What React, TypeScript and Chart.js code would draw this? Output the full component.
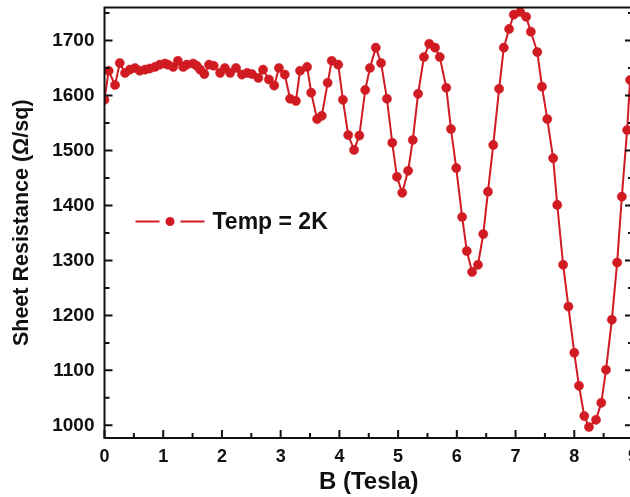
import { useEffect, useRef } from "react";
import { Chart, registerables } from "chart.js";

Chart.register(...registerables);

// Magnetic field B (Tesla)
const fieldB = [
  0.0, 0.07, 0.18, 0.26, 0.35, 0.43, 0.52, 0.6, 0.69, 0.77, 0.86, 0.94, 1.03, 1.08, 1.17, 1.25,
  1.34, 1.4, 1.51, 1.57, 1.63, 1.7, 1.78, 1.86, 1.97, 2.05, 2.14, 2.24, 2.34, 2.43, 2.51, 2.62,
  2.7, 2.8, 2.89, 2.97, 3.07, 3.16, 3.26, 3.33, 3.45, 3.52, 3.62, 3.7, 3.8, 3.87, 3.98, 4.06,
  4.15, 4.25, 4.34, 4.44, 4.52, 4.62, 4.71, 4.81, 4.9, 4.98, 5.07, 5.17, 5.25, 5.34, 5.44, 5.53,
  5.63, 5.71, 5.82, 5.9, 5.99, 6.09, 6.17, 6.26, 6.36, 6.45, 6.53, 6.62, 6.72, 6.8, 6.89, 6.97,
  7.08, 7.18, 7.26, 7.37, 7.45, 7.54, 7.64, 7.71, 7.81, 7.9, 8.0, 8.08, 8.17, 8.25, 8.37, 8.46,
  8.54, 8.64, 8.73, 8.81, 8.9, 8.95,
];

// Sheet resistance (Ω/sq) at 2 K
const sheetResistance = [
  1592, 1645, 1619, 1659, 1641, 1647, 1650, 1645, 1647, 1649, 1652, 1656, 1658, 1656, 1652, 1663,
  1652, 1656, 1658, 1654, 1647, 1639, 1656, 1654, 1641, 1650, 1641, 1650, 1638, 1641, 1639, 1632,
  1647, 1629, 1618, 1650, 1638, 1594, 1590, 1645, 1652, 1605, 1557, 1563, 1623, 1663, 1656, 1592,
  1528, 1501, 1527, 1610, 1650, 1687, 1659, 1594, 1514, 1452, 1423, 1463, 1519, 1603, 1670, 1694,
  1687, 1670, 1614, 1539, 1468, 1379, 1317, 1279, 1292, 1348, 1425, 1510, 1612, 1687, 1721, 1747,
  1752, 1743, 1716, 1679, 1616, 1557, 1486, 1401, 1292, 1216, 1132, 1072, 1017, 997, 1010, 1041,
  1101, 1192, 1296, 1416, 1537, 1628,
];

const xTickValues = [0, 1, 2, 3, 4, 5, 6, 7, 8, 9];
const yTickValues = [1000, 1100, 1200, 1300, 1400, 1500, 1600, 1700];

const seriesLabel = "Temp = 2K";
const xTitle = "B (Tesla)";
const yTitle = "Sheet Resistance (Ω/sq)";

const RED = "#d01b22";
const INK = "#111111";
const FONT = "'Liberation Sans', Arial, Helvetica, sans-serif";

const framePlugin = {
  id: "frame",
  afterDatasetsDraw(chart: any) {
    const { ctx, chartArea: a, scales } = chart;
    const x = scales.x;
    const y = scales.y;
    ctx.save();
    ctx.strokeStyle = INK;
    ctx.lineWidth = 2;
    ctx.strokeRect(a.left, a.top, a.right - a.left, a.bottom - a.top);
    ctx.beginPath();
    const major = 8;
    const minor = 5;
    for (const v of xTickValues) {
      const p = x.getPixelForValue(v);
      ctx.moveTo(p, a.bottom);
      ctx.lineTo(p, a.bottom - major);
      const m = v + 0.5;
      if (m <= x.max) {
        const pm = x.getPixelForValue(m);
        ctx.moveTo(pm, a.bottom);
        ctx.lineTo(pm, a.bottom - minor);
      }
    }
    for (const v of yTickValues) {
      const p = y.getPixelForValue(v);
      ctx.moveTo(a.left, p);
      ctx.lineTo(a.left + major, p);
      ctx.moveTo(a.right, p);
      ctx.lineTo(a.right - major, p);
      const m = v + 50;
      if (m <= y.max) {
        const pm = y.getPixelForValue(m);
        ctx.moveTo(a.left, pm);
        ctx.lineTo(a.left + minor, pm);
        ctx.moveTo(a.right, pm);
        ctx.lineTo(a.right - minor, pm);
      }
    }
    ctx.stroke();
    ctx.restore();
  },
  afterDraw(chart: any) {
    const { ctx, chartArea: a } = chart;
    const ds = chart.data.datasets[0];
    const ly = a.top + 214;
    const lx = a.left + 31;
    ctx.save();
    ctx.strokeStyle = ds.borderColor;
    ctx.lineWidth = 2;
    ctx.beginPath();
    ctx.moveTo(lx, ly);
    ctx.lineTo(lx + 24, ly);
    ctx.moveTo(lx + 45, ly);
    ctx.lineTo(lx + 69, ly);
    ctx.stroke();
    ctx.fillStyle = ds.pointBackgroundColor;
    ctx.beginPath();
    ctx.arc(lx + 34.5, ly, 4.5, 0, Math.PI * 2);
    ctx.fill();
    ctx.fillStyle = INK;
    ctx.font = `bold 23px ${FONT}`;
    ctx.textBaseline = "middle";
    ctx.textAlign = "left";
    ctx.fillText(ds.label, lx + 77, ly + 1);
    ctx.restore();
  },
};

export default function App() {
  const ref = useRef<HTMLCanvasElement>(null);

  useEffect(() => {
    const canvas = ref.current;
    if (!canvas) return;
    const points = fieldB.map((b, i) => ({ x: b, y: sheetResistance[i] }));
    const chart = new Chart(canvas, {
      type: "line",
      data: {
        datasets: [
          {
            label: seriesLabel,
            data: points,
            borderColor: RED,
            backgroundColor: RED,
            borderWidth: 2,
            pointRadius: 4.6,
            pointBackgroundColor: RED,
            pointBorderColor: RED,
            pointBorderWidth: 0.5,
            tension: 0,
          },
        ],
      },
      options: {
        animation: false,
        responsive: false,
        maintainAspectRatio: false,
        layout: { padding: { top: 7.5, right: 7, left: 0, bottom: 0 } },
        plugins: {
          legend: { display: false },
          tooltip: { enabled: false },
        },
        scales: {
          x: {
            type: "linear",
            min: 0,
            max: 9,
            grid: { display: false, drawTicks: false },
            border: { display: false },
            afterBuildTicks: (s: any) => {
              s.ticks = xTickValues.map((v) => ({ value: v }));
            },
            afterFit: (s: any) => {
              s.height = 59;
              s.paddingLeft = 0;
              s.paddingRight = 0;
            },
            ticks: {
              padding: 8,
              color: INK,
              font: { family: FONT, size: 18, weight: "bold" },
              callback: (v: any) => String(v),
            },
            title: {
              display: true,
              text: xTitle,
              color: INK,
              font: { family: FONT, size: 24, weight: "bold" },
              padding: { top: 0, bottom: 0 },
            },
          },
          y: {
            type: "linear",
            min: 977,
            max: 1760,
            grid: { display: false, drawTicks: false },
            border: { display: false },
            afterBuildTicks: (s: any) => {
              s.ticks = yTickValues.map((v) => ({ value: v }));
            },
            afterFit: (s: any) => {
              s.width = 104.5;
              s.paddingTop = 0;
              s.paddingBottom = 0;
            },
            ticks: {
              padding: 10,
              color: INK,
              font: { family: FONT, size: 19, weight: "bold" },
              callback: (v: any) => String(v),
            },
            title: {
              display: true,
              text: yTitle,
              color: INK,
              font: { family: FONT, size: 21.5, weight: "bold" },
              padding: { top: 9, bottom: 0 },
            },
          },
        },
      },
      plugins: [framePlugin],
    });
    return () => chart.destroy();
  }, []);

  return (
    <div
      style={{
        position: "absolute",
        left: 0,
        top: 0,
        width: 630,
        height: 497,
        overflow: "hidden",
        background: "#ffffff",
      }}
    >
      <canvas ref={ref} width={640} height={497} style={{ display: "block" }} />
    </div>
  );
}
